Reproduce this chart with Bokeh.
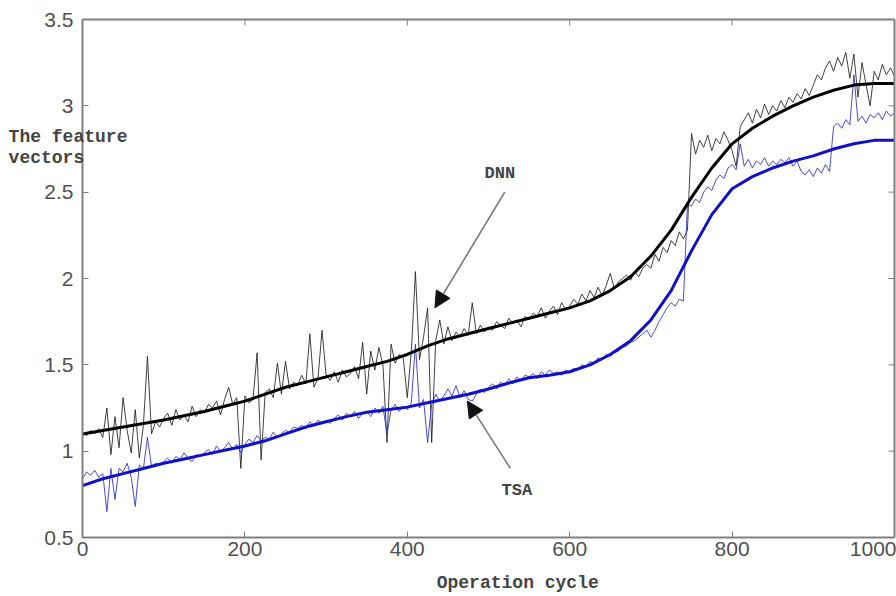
from bokeh.plotting import figure
from bokeh.models import Range1d, LinearAxis, Label, Arrow, NormalHead, NumeralTickFormatter, FixedTicker
from bokeh.embed import file_html
from bokeh.resources import INLINE

# ---------------- data ----------------
x_ticks = [0, 200, 400, 600, 800, 1000]
y_ticks = [0.5, 1.0, 1.5, 2.0, 2.5, 3.0, 3.5]
x_min, x_max = 0, 1000
y_min, y_max = 0.5, 3.5

smooth_x = list(range(0, 1001, 25))
dnn_smooth = [1.10, 1.12, 1.14, 1.16, 1.18, 1.205, 1.23, 1.26, 1.29, 1.33, 1.37, 1.40, 1.43, 1.46,
              1.49, 1.52, 1.56, 1.61, 1.65, 1.68, 1.71, 1.74, 1.77, 1.80, 1.83, 1.87, 1.93, 2.01,
              2.13, 2.28, 2.47, 2.64, 2.78, 2.87, 2.94, 3.00, 3.05, 3.09, 3.12, 3.13, 3.13]
tsa_smooth = [0.80, 0.84, 0.87, 0.90, 0.93, 0.955, 0.98, 1.005, 1.03, 1.06, 1.10, 1.14, 1.17, 1.20,
              1.225, 1.24, 1.255, 1.28, 1.305, 1.33, 1.36, 1.395, 1.425, 1.44, 1.46, 1.50, 1.56, 1.64,
              1.76, 1.93, 2.16, 2.37, 2.52, 2.59, 2.64, 2.68, 2.71, 2.75, 2.78, 2.80, 2.80]

raw_x = list(range(0, 1001, 5))
dnn_raw = [
    1.11, 1.09, 1.12, 1.10, 1.13, 1.08, 1.25, 0.98, 1.20, 1.02,
    1.31, 1.12, 0.99, 1.24, 0.96, 1.15, 1.55, 1.10, 1.17, 1.14,
    1.19, 1.22, 1.15, 1.24, 1.18, 1.21, 1.17, 1.26, 1.20, 1.24,
    1.22, 1.27, 1.25, 1.29, 1.21, 1.30, 1.37, 1.27, 1.31, 0.90,
    1.32, 1.28, 1.30, 1.57, 0.95, 1.34, 1.36, 1.31, 1.51, 1.33,
    1.52, 1.36, 1.40, 1.38, 1.44, 1.39, 1.68, 1.37, 1.42, 1.70,
    1.44, 1.41, 1.46, 1.40, 1.47, 1.43, 1.45, 1.49, 1.42, 1.63,
    1.33, 1.58, 1.47, 1.60, 1.50, 1.05, 1.62, 1.51, 1.56, 1.54,
    1.31, 1.58, 2.04, 1.53, 1.66, 1.83, 1.05, 1.64, 1.76, 1.62,
    1.72, 1.64, 1.69, 1.66, 1.71, 1.67, 1.86, 1.68, 1.73, 1.69,
    1.72, 1.70, 1.75, 1.73, 1.71, 1.77, 1.74, 1.76, 1.72, 1.78,
    1.76, 1.80, 1.78, 1.83, 1.77, 1.81, 1.84, 1.79, 1.86, 1.82,
    1.84, 1.88, 1.85, 1.91, 1.87, 1.93, 1.89, 1.95, 1.90, 1.96,
    2.03, 1.94, 1.98, 2.00, 2.02, 1.99, 2.04, 2.01, 2.06, 2.08,
    2.06, 2.14, 2.10, 2.18, 2.15, 2.22, 2.19, 2.27, 2.23, 2.28,
    2.84, 2.72, 2.80, 2.76, 2.83, 2.74, 2.81, 2.78, 2.85, 2.80,
    2.74, 2.65, 2.88, 2.92, 2.96, 2.90, 2.98, 2.93, 3.01, 2.95,
    3.00, 2.97, 3.03, 2.99, 3.05, 3.02, 3.07, 3.04, 3.10, 3.06,
    3.12, 3.18, 3.15, 3.22, 3.26, 3.20, 3.28, 3.23, 3.31, 3.16,
    3.30, 3.05, 3.25, 3.12, 3.00, 3.20, 3.15, 3.24, 3.18, 3.22,
    3.17,
]
tsa_raw = [
    0.84, 0.88, 0.86, 0.89, 0.85, 0.87, 0.65, 0.90, 0.72, 0.90,
    0.88, 0.93, 0.85, 0.68, 0.92, 0.90, 1.08, 0.91, 0.93, 0.92,
    0.94, 0.96, 0.93, 0.97, 0.95, 0.99, 0.96, 0.94, 0.98, 0.97,
    0.99, 1.01, 0.98, 1.03, 1.00, 1.02, 1.05, 1.01, 1.04, 0.99,
    1.04, 1.07, 1.05, 1.09, 1.06, 1.08, 1.07, 1.11, 1.08, 1.10,
    1.12, 1.11, 1.14, 1.13, 1.15, 1.13, 1.17, 1.15, 1.18, 1.16,
    1.18, 1.16, 1.19, 1.21, 1.18, 1.22, 1.20, 1.23, 1.19, 1.22,
    1.23, 1.20, 1.25, 1.22, 1.26, 1.10, 1.24, 1.27, 1.23, 1.26,
    1.24, 1.28, 1.62, 1.25, 1.30, 1.05, 1.27, 1.33, 1.29, 1.32,
    1.36, 1.32, 1.38, 1.31, 1.35, 1.30, 1.29, 1.33, 1.36, 1.34,
    1.37, 1.39, 1.36, 1.40, 1.38, 1.42, 1.39, 1.43, 1.41, 1.44,
    1.43, 1.45, 1.42, 1.46, 1.44, 1.47, 1.45, 1.46, 1.44, 1.47,
    1.46, 1.48, 1.47, 1.50, 1.49, 1.52, 1.51, 1.54, 1.53, 1.56,
    1.55, 1.57, 1.58, 1.60, 1.61, 1.63, 1.64, 1.66, 1.68, 1.70,
    1.66, 1.70, 1.75, 1.79, 1.83, 1.86, 1.84, 1.88, 1.87, 2.43,
    2.42, 2.46, 2.44, 2.50, 2.53, 2.51, 2.57, 2.60, 2.58, 2.64,
    2.66, 2.63, 2.78, 2.65, 2.69, 2.64, 2.68, 2.66, 2.70, 2.65,
    2.68, 2.66, 2.69, 2.67, 2.70, 2.65, 2.68, 2.62, 2.60, 2.63,
    2.59, 2.64, 2.61, 2.66, 2.62, 2.88, 2.90, 2.87, 2.92, 2.89,
    3.18, 2.91, 2.94, 2.90, 2.95, 2.93, 2.96, 2.92, 2.97, 2.94,
    2.96,
]

x_label = "Operation cycle"
y_label_lines = ["The feature", "vectors"]
dnn_name = "DNN"
tsa_name = "TSA"

# ---------------- figure ----------------
# The frame spans the whole canvas; the visible box is built from axes pinned
# at the data limits (fixed_location + bounds), so texts outside the box are not clipped.
W, H = 896, 596
left_px, right_px, top_px, bottom_px = 82, 894, 19, 537
sx = (right_px - left_px) / (x_max - x_min)
sy = (bottom_px - top_px) / (y_max - y_min)
xr = Range1d(x_min - left_px / sx, x_max + (W - right_px) / sx)
yr = Range1d(y_min - (H - bottom_px) / sy, y_max + top_px / sy)

p = figure(width=W, height=H, output_backend="svg", toolbar_location=None,
           x_range=xr, y_range=yr, x_axis_location=None, y_axis_location=None,
           min_border=0, background_fill_color="white", border_fill_color="white")
p.xgrid.visible = False
p.ygrid.visible = False
p.outline_line_color = None

tick_font = "Liberation Sans"
frame_col = "#808080"
tick_len_px = 6


def make_axis(ticks, loc, bounds):
    return LinearAxis(ticker=FixedTicker(ticks=ticks), fixed_location=loc, bounds=bounds,
                      axis_line_color=frame_col, axis_line_width=2,
                      major_tick_in=tick_len_px, major_tick_out=0, major_tick_line_color=frame_col,
                      minor_tick_line_color=None,
                      major_label_text_font=tick_font, major_label_text_font_size="21px",
                      major_label_text_color="#505050")


xb = make_axis(x_ticks, y_min, (x_min, x_max))
xb.major_label_standoff = 4
yl = make_axis(y_ticks, x_min, (y_min, y_max))
yl.major_label_standoff = 9
yl.formatter = NumeralTickFormatter(format="0.[0]")
xt = make_axis([], y_max, (x_min, x_max))
yrt = make_axis([], x_max, (y_min, y_max))
p.add_layout(xb, "below")
p.add_layout(yl, "left")
p.add_layout(xt, "above")
p.add_layout(yrt, "right")

# inward tick marks on the top and right edges of the box
tl_y = tick_len_px / sy
tl_x = tick_len_px / sx
p.segment(x0=x_ticks, y0=[y_max] * len(x_ticks), x1=x_ticks, y1=[y_max - tl_y] * len(x_ticks),
          line_color=frame_col, line_width=1)
p.segment(x0=[x_max] * len(y_ticks), y0=y_ticks, x1=[x_max - tl_x] * len(y_ticks), y1=y_ticks,
          line_color=frame_col, line_width=1)

# ---------------- lines ----------------
p.line(raw_x, dnn_raw, line_color="#202020", line_width=1, line_alpha=0.85)
p.line(raw_x, tsa_raw, line_color="#2a2ad0", line_width=1, line_alpha=0.85)
p.line(smooth_x, tsa_smooth, line_color="#1010c8", line_width=3)
p.line(smooth_x, dnn_smooth, line_color="#000000", line_width=3)

# ---------------- annotations ----------------
lab_font = "Liberation Mono"
dnn_arrow = dict(x_start=520, y_start=2.50, x_end=434, y_end=1.83)
tsa_arrow = dict(x_start=527, y_start=0.90, x_end=474, y_end=1.29)
for a in (dnn_arrow, tsa_arrow):
    p.add_layout(Arrow(end=NormalHead(size=16, fill_color="#111111", line_color="#111111"),
                       line_color="#707070", line_width=1.5, **a))

p.add_layout(Label(x=514, y=2.61, text=dnn_name, text_font=lab_font, text_font_style="bold",
                   text_font_size="17px", text_align="center", text_baseline="middle"))
p.add_layout(Label(x=535, y=0.775, text=tsa_name, text_font=lab_font, text_font_style="bold",
                   text_font_size="17px", text_align="center", text_baseline="middle"))
p.add_layout(Label(x=536, y=0.235, text=x_label, text_font=lab_font, text_font_style="bold",
                   text_font_size="18px", text_align="center", text_baseline="middle"))
for i, t in enumerate(y_label_lines):
    p.add_layout(Label(x=-91, y=2.82 - i * 0.125, text=t, text_font=lab_font, text_font_style="bold",
                       text_font_size="18px", text_align="left", text_baseline="middle"))

open("out.html", "w").write(file_html(p, INLINE))
